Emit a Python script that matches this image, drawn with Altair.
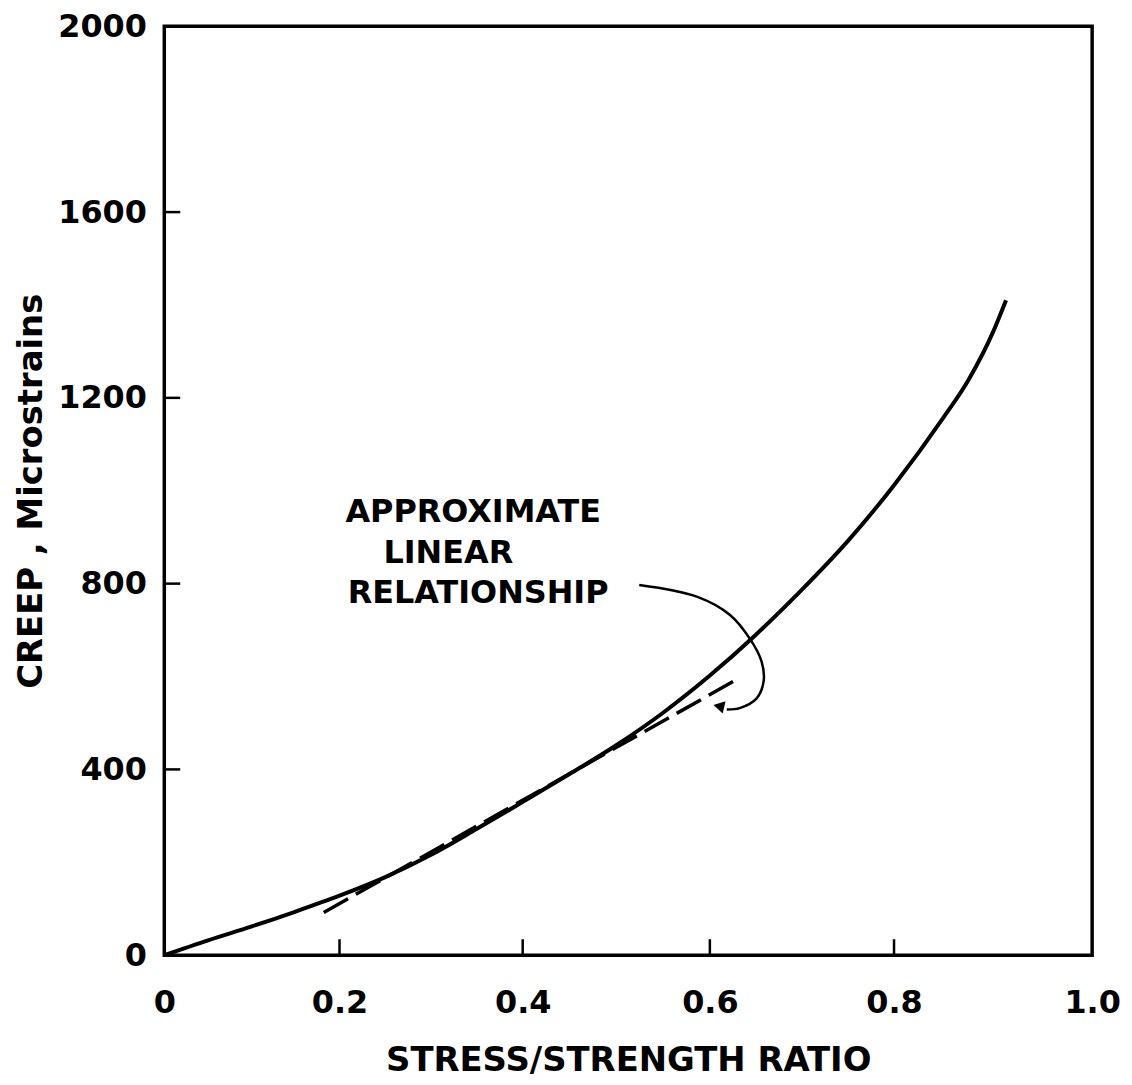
import altair as alt
import pandas as pd

# ---- data ----
curve_x = [0, 0.05, 0.10, 0.15, 0.20, 0.25, 0.30, 0.35, 0.40, 0.45, 0.50, 0.55,
           0.60, 0.65, 0.70, 0.75, 0.80, 0.85, 0.875, 0.90, 0.913]
curve_y = [0, 32, 62, 94, 128, 168, 216, 272, 330, 390, 452, 522,
           602, 690, 787, 892, 1012, 1158, 1238, 1342, 1410]

linear_x = [0.182, 0.626]
linear_y = [92, 590]

arrow_x = [0.5245, 0.586, 0.6216, 0.6432, 0.6562, 0.6584, 0.6508, 0.6324, 0.6184]
arrow_y = [797, 772, 733, 682, 632, 590, 553, 532, 529]
arrow_head = (0.6097, 536)

x_ticks = [0, 0.2, 0.4, 0.6, 0.8, 1.0]
y_ticks = [0, 400, 800, 1200, 1600, 2000]

note_lines = ["APPROXIMATE", "LINEAR", "RELATIONSHIP"]
note_x = [0.2065, 0.248, 0.209]
note_y = [954, 866, 780]

# ---- layout ----
W, H = 932, 933
FONT = "DejaVu Sans"

xscale = alt.Scale(domain=[0, 0.2, 0.4, 0.6, 0.8, 1.0],
                   range=[0, 176, 360, 548, 733, W])
yscale = alt.Scale(domain=[0, 2000])

xaxis = alt.Axis(values=x_ticks, labelExpr="datum.value == 0 ? '0' : format(datum.value, '.1f')",
                 title="STRESS/STRENGTH RATIO", ticks=False, tickSize=0, domain=False, grid=False,
                 labelFont=FONT, labelFontSize=32, labelFontWeight="bold", labelColor="black",
                 labelPadding=33, titleFont=FONT, titleFontSize=34, titleFontWeight="bold",
                 titleColor="black", titlePadding=25, labelFlush=False)
yaxis = alt.Axis(values=y_ticks, format="d", title="CREEP  ,  Microstrains",
                 ticks=False, tickSize=0, domain=False, grid=False,
                 labelFont=FONT, labelFontSize=32, labelFontWeight="bold", labelColor="black",
                 labelPadding=18, titleFont=FONT, titleFontSize=34, titleFontWeight="bold",
                 titleColor="black", titlePadding=9, labelFlush=False)

curve_df = pd.DataFrame({"x": curve_x, "y": curve_y})
lin_df = pd.DataFrame({"x": linear_x, "y": linear_y})
arrow_df = pd.DataFrame({"x": arrow_x, "y": arrow_y, "o": list(range(len(arrow_x)))})
head_df = pd.DataFrame({"x": [arrow_head[0]], "y": [arrow_head[1]]})
note_df = pd.DataFrame({"t": note_lines, "x": note_x, "y": note_y})
xt_df = pd.DataFrame({"x": x_ticks[1:-1]})
yt_df = pd.DataFrame({"y": y_ticks[1:-1]})

curve = alt.Chart(curve_df).mark_line(color="black", strokeWidth=4, interpolate="monotone").encode(
    x=alt.X("x:Q", scale=xscale, axis=xaxis),
    y=alt.Y("y:Q", scale=yscale, axis=yaxis),
)

linear = alt.Chart(lin_df).mark_line(color="black", strokeWidth=3.5, strokeDash=[28, 9]).encode(
    x=alt.X("x:Q", scale=xscale), y=alt.Y("y:Q", scale=yscale)
)

arrow = alt.Chart(arrow_df).mark_line(color="black", strokeWidth=2.5, interpolate="catmull-rom").encode(
    x=alt.X("x:Q", scale=xscale), y=alt.Y("y:Q", scale=yscale), order="o:Q"
)

head = alt.Chart(head_df).mark_point(shape="triangle-left", filled=True, color="black",
                                     size=160, angle=13, opacity=1).encode(
    x=alt.X("x:Q", scale=xscale), y=alt.Y("y:Q", scale=yscale)
)

notes = alt.Chart(note_df).mark_text(align="left", baseline="middle", font=FONT, fontSize=32,
                                     fontWeight="bold", color="black").encode(
    x=alt.X("x:Q", scale=xscale), y=alt.Y("y:Q", scale=yscale), text="t:N"
)

xt = alt.Chart(xt_df).mark_rule(color="black", strokeWidth=2.5).encode(
    x=alt.X("x:Q", scale=xscale), y=alt.value(H), y2=alt.value(H - 16)
)
yt = alt.Chart(yt_df).mark_rule(color="black", strokeWidth=2.5).encode(
    y=alt.Y("y:Q", scale=yscale), x=alt.value(0), x2=alt.value(16)
)

chart = alt.layer(curve, linear, arrow, head, notes, xt, yt).properties(
    width=W, height=H,
    autosize=alt.AutoSizeParams(type="none"),
    padding={"left": 157, "top": 16, "right": 32, "bottom": 125},
    background="white",
).configure_view(stroke="black", strokeWidth=3.5)

chart.save("out.html", embed_options={"renderer": "svg", "actions": False})
